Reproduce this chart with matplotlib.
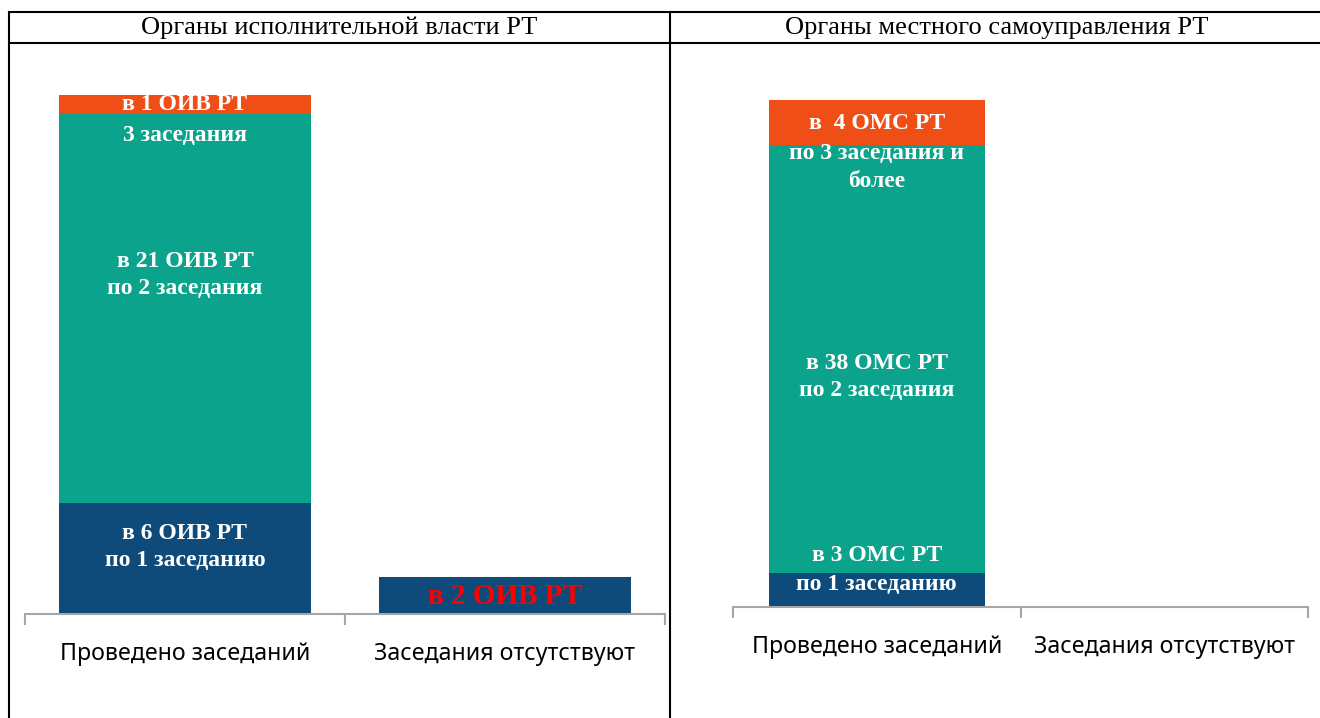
import numpy as np
import matplotlib.pyplot as plt
from matplotlib.lines import Line2D

# data
categories = ["Проведено заседаний", "Заседания отсутствуют"]
oiv_one = [6, 2]
oiv_two = [21, 0]
oiv_three = [1, 0]
oms_one = [3, 0]
oms_two = [38, 0]
oms_three = [4, 0]

panel_titles = ["Органы исполнительной власти РТ", "Органы местного самоуправления РТ"]

blue = "#0E4A7A"
teal = "#0BA38B"
orange = "#F04E17"

fig = plt.figure(figsize=(13.2, 7.18), dpi=100)
W, H = 1320, 718


def fx(px):
    return px / W


def fy(py):
    return 1 - py / H


# table frame
frame = dict(color="black", lw=1.5, transform=fig.transFigure)
fig.add_artist(Line2D([fx(9), fx(1320)], [fy(12), fy(12)], **frame))
fig.add_artist(Line2D([fx(9), fx(1320)], [fy(43), fy(43)], **frame))
fig.add_artist(Line2D([fx(9), fx(9)], [fy(12), fy(718)], **frame))
fig.add_artist(Line2D([fx(670), fx(670)], [fy(12), fy(718)], **frame))

serif = ["Liberation Serif", "DejaVu Serif"]
fig.text(fx(339), fy(28), panel_titles[0], ha="center", va="center", fontsize=19, family=serif)
fig.text(fx(997), fy(28), panel_titles[1], ha="center", va="center", fontsize=19, family=serif)


def setup(ax, ymax):
    ax.set_xlim(-0.5, 1.5)
    ax.set_ylim(0, ymax)
    for s in ["top", "right", "left"]:
        ax.spines[s].set_visible(False)
    ax.spines["bottom"].set_color("#a6a6a6")
    ax.spines["bottom"].set_linewidth(1.5)
    ax.set_yticks([])
    ax.set_xticks(range(len(categories)))
    ax.set_xticklabels(categories, fontsize=16.7, family=["Noto Sans", "DejaVu Sans"])
    ax.tick_params(axis="x", which="major", length=0, pad=20)
    ax.set_xticks([-0.5, 0.5, 1.5], minor=True)
    ax.tick_params(axis="x", which="minor", length=8, width=1.5, color="#a6a6a6", direction="out")
    ax.patch.set_alpha(0)


x = np.arange(len(categories))
wtxt = dict(color="white", fontsize=17, fontweight="bold", family=serif, ha="center", va="center",
            linespacing=1.4)

# left panel
ax1 = fig.add_axes([fx(25), 1 - 614 / H, fx(640), 556 / H])
setup(ax1, 30)
b1 = np.array(oiv_one)
b2 = b1 + np.array(oiv_two)
ax1.bar(x, oiv_one, width=0.79, color=blue)
ax1.bar(x, oiv_two, bottom=b1, width=0.79, color=teal)
ax1.bar(x, oiv_three, bottom=b2, width=0.79, color=orange)
ax1.text(0, 27.5, "в 1 ОИВ РТ", **wtxt)
ax1.text(0, 25.84, "3 заседания", **wtxt)
ax1.text(0, 18.3, "в 21 ОИВ РТ\nпо 2 заседания", **wtxt)
ax1.text(0, 3.6, "в 6 ОИВ РТ\nпо 1 заседанию", **wtxt)
ax1.text(1, 0.92, "в 2 ОИВ РТ", color="#FF0000", fontsize=21, fontweight="bold", family=serif,
         ha="center", va="center")

# right panel
ax2 = fig.add_axes([fx(733), 1 - 607 / H, fx(575), 541 / H])
setup(ax2, 48)
c1 = np.array(oms_one)
c2 = c1 + np.array(oms_two)
ax2.bar(x, oms_one, width=0.75, color=blue)
ax2.bar(x, oms_two, bottom=c1, width=0.75, color=teal)
ax2.bar(x, oms_three, bottom=c2, width=0.75, color=orange)
ax2.text(0, 42.86, "в  4 ОМС РТ", **wtxt)
ax2.text(0, 39.0, "по 3 заседания и\nболее", **wtxt)
ax2.text(0, 20.4, "в 38 ОМС РТ\nпо 2 заседания", **wtxt)
ax2.text(0, 4.6, "в 3 ОМС РТ", **wtxt)
ax2.text(0, 2.0, "по 1 заседанию", **wtxt)

fig.savefig("out.png", dpi=100)
